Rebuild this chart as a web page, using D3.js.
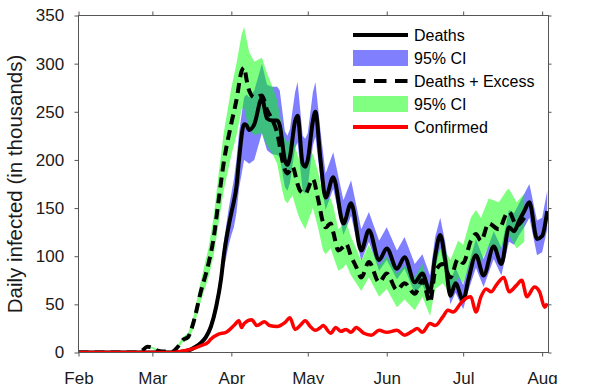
<!DOCTYPE html>
<html>
<head>
<meta charset="utf-8">
<script src="https://cdn.jsdelivr.net/npm/d3@7"></script>
<style>
  body { margin: 0; background: #fff; }
  svg { display: block; font-family: 'Liberation Sans', Arial, sans-serif; }
</style>
</head>
<body>
<svg id="chart" width="606" height="384"></svg>
<script>
// daily infected, thousands (dates are 2020)
const deaths = [
  ['02-01', 0], ['03-10', 0], ['03-13', 1], ['03-16', 3], ['03-18', 6], ['03-20', 10],
  ['03-22', 16], ['03-24', 27], ['03-26', 47], ['03-28', 77], ['03-29', 100], ['03-31', 132],
  ['04-01', 145], ['04-02', 157], ['04-03', 172], ['04-04', 200], ['04-06', 237], ['04-07', 236],
  ['04-08', 231], ['04-10', 237], ['04-13', 264], ['04-15', 243], ['04-17', 241], ['04-19', 241],
  ['04-20', 236], ['04-22', 200], ['04-23', 195], ['04-24', 203], ['04-26', 240], ['04-27', 246],
  ['04-29', 196], ['04-30', 193], ['05-01', 200], ['05-03', 240], ['05-04', 250], ['05-06', 200],
  ['05-08', 161], ['05-11', 182], ['05-15', 134], ['05-18', 155], ['05-22', 106], ['05-25', 127],
  ['05-29', 96], ['06-01', 108], ['06-05', 87], ['06-08', 99], ['06-12', 73], ['06-15', 82],
  ['06-18', 63], ['06-20', 100], ['06-22', 122], ['06-24', 95], ['06-26', 59], ['06-28', 72],
  ['07-01', 54], ['07-03', 75], ['07-06', 101], ['07-09', 80], ['07-13', 110], ['07-16', 92],
  ['07-19', 130], ['07-21', 126], ['07-23', 137], ['07-25', 147], ['07-27', 156], ['07-30', 118],
  ['08-01', 121], ['08-03', 147]
]

const deathsCI = [
  ['02-01', 0, 0], ['03-10', 0, 0], ['03-13', 0, 2], ['03-16', 2, 4], ['03-18', 5, 8], ['03-20', 8, 12],
  ['03-22', 13, 19], ['03-24', 23, 31], ['03-26', 40, 54], ['03-28', 66, 88], ['03-29', 86, 114],
  ['03-31', 112, 150], ['04-01', 122, 165], ['04-02', 130, 180], ['04-03', 145, 200], ['04-04', 170, 228],
  ['04-06', 200, 265], ['04-07', 198, 268], ['04-08', 196, 265], ['04-10', 200, 272], ['04-13', 228, 300],
  ['04-15', 210, 278], ['04-17', 206, 276], ['04-19', 205, 276], ['04-20', 203, 272], ['04-22', 172, 230],
  ['04-23', 168, 225], ['04-24', 176, 232], ['04-26', 212, 270], ['04-27', 218, 281], ['04-29', 168, 225],
  ['04-30', 165, 222], ['05-01', 172, 228], ['05-03', 215, 270], ['05-04', 224, 281], ['05-06', 180, 230],
  ['05-08', 148, 186], ['05-11', 170, 208], ['05-15', 122, 158], ['05-18', 142, 179], ['05-22', 95, 128],
  ['05-25', 115, 146], ['05-29', 85, 116], ['06-01', 96, 130], ['06-05', 76, 106], ['06-08', 87, 120],
  ['06-12', 62, 92], ['06-15', 70, 102], ['06-18', 53, 80], ['06-20', 88, 120], ['06-22', 108, 140],
  ['06-24', 84, 114], ['06-26', 50, 75], ['06-28', 62, 88], ['07-01', 45, 70], ['07-03', 64, 90],
  ['07-06', 88, 118], ['07-09', 68, 97], ['07-13', 97, 126], ['07-16', 80, 109], ['07-19', 115, 148],
  ['07-21', 112, 145], ['07-23', 122, 155], ['07-25', 130, 165], ['07-27', 140, 175], ['07-30', 101, 137],
  ['08-01', 104, 140], ['08-03', 128, 168]
]

const excess = [
  ['02-01', 0], ['02-24', 0], ['02-26', 2], ['02-28', 6], ['03-01', 5], ['03-03', 2], ['03-05', 1],
  ['03-09', 1], ['03-11', 6], ['03-13', 13], ['03-15', 16], ['03-17', 30], ['03-20', 63], ['03-23', 92],
  ['03-25', 118], ['03-27', 158], ['03-29', 197], ['04-01', 238], ['04-03', 262], ['04-05', 292],
  ['04-06', 296], ['04-07', 283], ['04-08', 272], ['04-10', 265], ['04-13', 267], ['04-15', 252],
  ['04-17', 242], ['04-19', 228], ['04-21', 200], ['04-22', 190], ['04-23', 186], ['04-25', 193],
  ['04-27', 175], ['04-28', 168], ['04-30', 165], ['05-03', 180], ['05-05', 160], ['05-07', 135],
  ['05-08', 130], ['05-10', 134], ['05-11', 125], ['05-13', 106], ['05-15', 110], ['05-16', 113],
  ['05-18', 100], ['05-20', 89], ['05-22', 78], ['05-25', 94], ['05-29', 73], ['06-01', 82],
  ['06-05', 65], ['06-08', 72], ['06-12', 61], ['06-15', 75], ['06-18', 52], ['06-20', 84],
  ['06-23', 92], ['06-26', 78], ['06-29', 97], ['07-01', 93], ['07-04', 116], ['07-06', 123],
  ['07-08', 116], ['07-11', 134], ['07-15', 128], ['07-18', 144], ['07-19', 146], ['07-22', 132],
  ['07-25', 140]
]

const excessCI = [
  ['02-01', 0, 0], ['02-24', 0, 0], ['02-26', 1, 3], ['02-28', 5, 7], ['03-01', 4, 6], ['03-03', 1, 3],
  ['03-05', 0, 2], ['03-09', 0, 2], ['03-11', 4, 8], ['03-13', 11, 16], ['03-15', 13, 20], ['03-17', 24, 36],
  ['03-20', 53, 74], ['03-23', 78, 108], ['03-25', 100, 140], ['03-27', 134, 185], ['03-29', 168, 228],
  ['04-01', 205, 275], ['04-03', 225, 300], ['04-05', 252, 330], ['04-06', 255, 338], ['04-07', 242, 325],
  ['04-08', 232, 312], ['04-10', 226, 302], ['04-13', 228, 306], ['04-15', 215, 290], ['04-17', 207, 277],
  ['04-19', 196, 262], ['04-21', 168, 232], ['04-22', 158, 222], ['04-23', 155, 218], ['04-25', 163, 224],
  ['04-27', 145, 205], ['04-28', 138, 198], ['04-30', 128, 195], ['05-03', 150, 207], ['05-05', 130, 188],
  ['05-07', 106, 163], ['05-08', 102, 158], ['05-10', 108, 160], ['05-11', 100, 152], ['05-13', 85, 128],
  ['05-15', 88, 133], ['05-16', 92, 136], ['05-18', 80, 120], ['05-20', 72, 108], ['05-22', 64, 95],
  ['05-25', 78, 112], ['05-29', 58, 90], ['06-01', 66, 100], ['06-05', 47, 82], ['06-08', 55, 90],
  ['06-12', 44, 78], ['06-15', 58, 92], ['06-18', 38, 66], ['06-20', 66, 100], ['06-23', 72, 110],
  ['06-26', 60, 96], ['06-29', 78, 116], ['07-01', 72, 112], ['07-04', 94, 140], ['07-06', 100, 148],
  ['07-08', 94, 140], ['07-11', 110, 160], ['07-15', 104, 156], ['07-18', 120, 168], ['07-19', 122, 170],
  ['07-22', 108, 156], ['07-25', 115, 165]
]

const confirmed = [
  ['02-01', 0], ['03-09', 0], ['03-12', 1], ['03-17', 4], ['03-20', 7], ['03-23', 11], ['03-24', 14],
  ['03-27', 19], ['03-30', 21], ['04-02', 28], ['04-04', 33], ['04-05', 26], ['04-06', 30], ['04-09', 34],
  ['04-11', 28], ['04-14', 32], ['04-16', 28], ['04-19', 27], ['04-22', 31], ['04-24', 36], ['04-26', 24],
  ['04-28', 28], ['04-30', 33], ['05-02', 27], ['05-04', 23], ['05-06', 26], ['05-07', 28], ['05-10', 20],
  ['05-12', 26], ['05-14', 22], ['05-16', 24], ['05-18', 21], ['05-20', 26], ['05-23', 20], ['05-26', 18],
  ['05-29', 23], ['06-01', 21], ['06-05', 23], ['06-08', 18], ['06-11', 22], ['06-13', 25], ['06-15', 21],
  ['06-18', 30], ['06-20', 28], ['06-23', 37], ['06-25', 44], ['06-27', 42], ['06-30', 51], ['07-01', 54],
  ['07-04', 58], ['07-06', 42], ['07-08', 58], ['07-10', 66], ['07-12', 63], ['07-14', 70], ['07-17', 78],
  ['07-19', 63], ['07-22', 70], ['07-24', 75], ['07-26', 58], ['07-29', 68], ['07-31', 63], ['08-02', 47],
  ['08-03', 51]
]

const yTicks = [0, 50, 100, 150, 200, 250, 300, 350]
const legendItems = [
  { label: 'Deaths', kind: 'line', color: '#000' },
  { label: '95% CI', kind: 'band', color: '#8080ff' },
  { label: 'Deaths + Excess', kind: 'dash', color: '#000' },
  { label: '95% CI', kind: 'band', color: '#80ff80' },
  { label: 'Confirmed', kind: 'line', color: '#ff0000' }
]

const parseDay = d3.timeParse('%Y-%m-%d')
const day = s => parseDay('2020-' + s)

class DailyInfected {
  constructor (el) {
    this.svg = d3.select(el)
    this.left = 78.5
    this.right = 548.5
    this.top = 15.5
    this.bottom = 352.5
    this.x = d3.scaleTime()
      .domain([new Date(2020, 1, 1), new Date(2020, 7, 3, 12)])
      .range([this.left, this.right])
    this.y = d3.scaleLinear().domain([0, 350]).range([this.bottom, this.top])
  }

  _band (data, color) {
    const area = d3.area()
      .x(d => this.x(day(d[0])))
      .y0(d => this.y(d[1]))
      .y1(d => this.y(d[2]))
    this.plot.append('path')
      .attr('d', area(data))
      .attr('fill', color)
      .attr('fill-opacity', 0.5)
  }

  _line (data, color, width, dash) {
    const line = d3.line()
      .x(d => this.x(day(d[0])))
      .y(d => this.y(d[1]))
      .curve(d3.curveMonotoneX)
    this.plot.append('path')
      .attr('d', line(data))
      .attr('fill', 'none')
      .attr('stroke', color)
      .attr('stroke-width', width)
      .attr('stroke-linejoin', 'round')
      .attr('stroke-dasharray', dash || null)
  }

  _axes () {
    const months = d3.timeMonth.every(1)
    const style = g => {
      g.select('.domain').remove()
      g.selectAll('line').attr('stroke', '#555')
      g.attr('font-family', "'Liberation Sans', Arial, sans-serif")
        .attr('font-size', 17)
      g.selectAll('text').attr('fill', '#1a1a1a')
    }

    this.svg.append('g')
      .attr('transform', `translate(0,${this.bottom})`)
      .call(d3.axisBottom(this.x).ticks(months).tickFormat(d3.timeFormat('%b')).tickSize(4).tickPadding(15.6))
      .call(style)
    this.svg.append('g')
      .attr('transform', `translate(0,${this.top})`)
      .call(d3.axisTop(this.x).ticks(months).tickFormat('').tickSize(4))
      .call(style)
    this.svg.append('g')
      .attr('transform', `translate(${this.left},0)`)
      .call(d3.axisLeft(this.y).tickValues(yTicks).tickSize(4).tickPadding(10.3))
      .call(style)
    this.svg.append('g')
      .attr('transform', `translate(${this.right},0)`)
      .call(d3.axisRight(this.y).tickValues(yTicks).tickFormat('').tickSize(3))
      .call(style)

    this.svg.append('rect')
      .attr('x', this.left)
      .attr('y', this.top)
      .attr('width', this.right - this.left)
      .attr('height', this.bottom - this.top)
      .attr('fill', 'none')
      .attr('stroke', '#555')

    this.svg.append('text')
      .attr('transform', 'translate(22,184) rotate(-90)')
      .attr('text-anchor', 'middle')
      .attr('font-size', 20.5)
      .attr('fill', '#1a1a1a')
      .text('Daily infected (in thousands)')
  }

  _legend () {
    const rows = this.svg.append('g')
      .selectAll('g')
      .data(legendItems)
      .enter()
      .append('g')
      .attr('transform', (d, i) => `translate(353,${35 + i * 23})`)

    rows.filter(d => d.kind === 'band')
      .append('rect')
      .attr('x', 0)
      .attr('y', -8)
      .attr('width', 55)
      .attr('height', 16)
      .attr('fill', d => d.color)

    rows.filter(d => d.kind !== 'band')
      .append('line')
      .attr('x1', 0)
      .attr('x2', 55)
      .attr('stroke', d => d.color)
      .attr('stroke-width', 4)
      .attr('stroke-dasharray', d => d.kind === 'dash' ? '12.5,8.5' : null)

    rows.append('text')
      .attr('x', 61)
      .attr('y', 5.7)
      .attr('font-size', 16)
      .attr('fill', '#000')
      .text(d => d.label)
  }

  render () {
    this.svg.append('clipPath')
      .attr('id', 'plot-clip')
      .append('rect')
      .attr('x', this.left)
      .attr('y', this.top)
      .attr('width', this.right - this.left)
      .attr('height', this.bottom - this.top)

    this.plot = this.svg.append('g').attr('clip-path', 'url(#plot-clip)')

    this._band(deathsCI, 'rgb(0,0,255)')
    this._band(excessCI, 'rgb(0,255,0)')
    this._line(excess, '#000', 4, '10,6')
    this._line(deaths, '#000', 4)
    this._line(confirmed, '#ff0000', 3.5)

    this._axes()
    this._legend()
  }
}

new DailyInfected('#chart').render()
</script>
</body>
</html>
